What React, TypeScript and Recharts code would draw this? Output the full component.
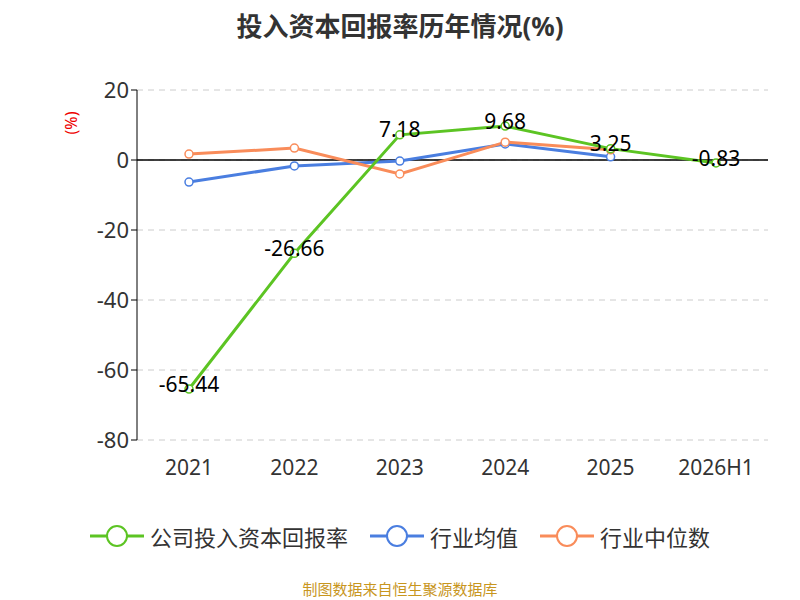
import { LineChart, Line, XAxis, YAxis, CartesianGrid, ReferenceLine, LabelList } from 'recharts';

const years = ['2021', '2022', '2023', '2024', '2025', '2026H1'];
const company = [-65.44, -26.66, 7.18, 9.68, 3.25, -0.83];
const industryAvg = [-6.3, -1.7, -0.3, 4.6, 0.9, null];
const industryMedian = [1.7, 3.4, -4.0, 5.1, 2.9, null];
const yTicks = [20, 0, -20, -40, -60, -80];

const data = years.map((y, i) => ({
  year: y,
  company: company[i],
  avg: industryAvg[i],
  median: industryMedian[i],
}));

const font = '"Noto Sans", "Noto Sans CJK SC", sans-serif';

const CompanyLabel = (props: any) => {
  const { x, y, value } = props;
  return (
    <text x={x} y={y} dy={-3} textAnchor="middle" dominantBaseline="middle" fontSize={21} fill="#000" fontFamily={font}>
      {value}
    </text>
  );
};

const legendItems = [
  { name: '公司投入资本回报率', color: '#5cc423' },
  { name: '行业均值', color: '#4a7ee0' },
  { name: '行业中位数', color: '#f98c5a' },
];

export default function App() {
  return (
    <div style={{ position: 'absolute', left: 0, top: 0, width: 800, height: 600, background: '#fff', fontFamily: font }}>
      <div style={{ position: 'absolute', top: 6, width: 800, textAlign: 'center', fontSize: 26, fontWeight: 'bold', color: '#333' }}>
        投入资本回报率历年情况(%)
      </div>
      <div style={{ position: 'absolute', left: 60, top: 112, transform: 'rotate(-90deg)', color: '#e00', fontSize: 16 }}>(%)</div>
      <LineChart width={800} height={600} data={data} margin={{ top: 90, right: 32, bottom: 130, left: 0 }}>
        <CartesianGrid horizontal vertical={false} stroke="#ccc" strokeDasharray="6 5" />
        <XAxis dataKey="year" axisLine={false} tickLine={false} height={30} padding={{ left: 52, right: 52 }}
          tick={{ fontSize: 21, fill: '#333', fontFamily: font }} dy={12} />
        <YAxis domain={[-80, 20]} ticks={yTicks} width={137} stroke="#000"
          tick={{ fontSize: 22, fill: '#333', fontFamily: font }} interval={0} />
        <ReferenceLine y={0} stroke="#000" strokeWidth={1.5} />
        <Line dataKey="avg" stroke="#4a7ee0" strokeWidth={3} isAnimationActive={false}
          dot={{ r: 4, fill: '#fff', stroke: '#4a7ee0', strokeWidth: 1.5 }} />
        <Line dataKey="median" stroke="#f98c5a" strokeWidth={3} isAnimationActive={false}
          dot={{ r: 4, fill: '#fff', stroke: '#f98c5a', strokeWidth: 1.5 }} />
        <Line dataKey="company" stroke="#5cc423" strokeWidth={3} isAnimationActive={false}
          dot={{ r: 4, fill: '#fff', stroke: '#5cc423', strokeWidth: 1.5 }}>
          <LabelList dataKey="company" content={CompanyLabel} />
        </Line>
      </LineChart>
      <div style={{ position: 'absolute', top: 520, width: 800, display: 'flex', justifyContent: 'center', gap: 22, fontSize: 22, color: '#333' }}>
        {legendItems.map((it) => (
          <div key={it.name} style={{ display: 'flex', alignItems: 'center' }}>
            <svg width={54} height={30}>
              <line x1={0} y1={15} x2={54} y2={15} stroke={it.color} strokeWidth={3} />
              <circle cx={27} cy={15} r={10} fill="#fff" stroke={it.color} strokeWidth={2} />
            </svg>
            <span style={{ marginLeft: 6 }}>{it.name}</span>
          </div>
        ))}
      </div>
      <div style={{ position: 'absolute', top: 578, width: 800, textAlign: 'center', fontSize: 15, color: '#c8961e' }}>
        制图数据来自恒生聚源数据库
      </div>
    </div>
  );
}
